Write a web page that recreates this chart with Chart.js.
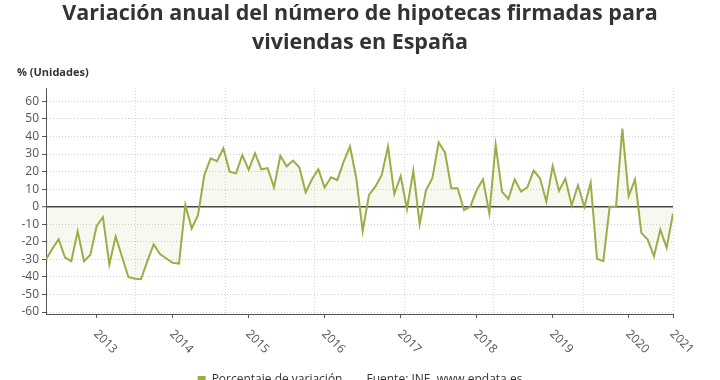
<!DOCTYPE html>
<html lang="es">
<head>
<meta charset="UTF-8">
<meta name="viewport" content="width=device-width, initial-scale=1.0">
<title>Variación anual del número de hipotecas</title>
<script src="https://cdn.jsdelivr.net/npm/chart.js"></script>
<style>
  html, body { margin: 0; padding: 0; background: #fff; overflow: hidden; }
  .wrap { width: 720px; height: 396px; }
</style>
</head>
<body>
<div class="wrap"><canvas id="chart"></canvas></div>
<script>
// --- data (monthly, 100 points) ---
const titleLines = ['Variación anual del número de hipotecas firmadas para', 'viviendas en España'];
const unitLabel = '% (Unidades)';
const seriesName = 'Porcentaje de variación';
const sourceText = 'Fuente: INE, www.epdata.es';

const yTicks = [60, 50, 40, 30, 20, 10, 0, -10, -20, -30, -40, -50, -60];
const yearLabels = ['2013', '2014', '2015', '2016', '2017', '2018', '2019', '2020', '2021'];
const yearTickPos = [8, 20, 32, 44, 56, 68, 80, 92, 99];   // month index of each year tick

const variacion = [
  -30, -24, -18.5, -29, -31, -14, -31, -27.5, -11, -6,
  -33, -17, -28.5, -40, -41, -41.3, -31, -21.5, -27, -29.5,
  -32, -32.4, 1, -12.4, -4.8, 18, 27.6, 26, 33.3, 20,
  19, 29.5, 21, 30.5, 21.3, 22, 11, 29, 23, 26.3,
  22.5, 8.2, 15.6, 21.3, 11, 16.8, 15.2, 25.7, 34.3, 16.2,
  -13.9, 6.7, 11.4, 18, 34.3, 7.2, 17.5, -1.3, 20.6, -10,
  9.5, 16.2, 36.6, 30.9, 10.5, 10.5, -1.9, 0, 9.5, 15.6,
  -3.8, 35.2, 8.6, 4.4, 15.6, 8.6, 11, 20.6, 16.2, 2.9,
  23.2, 9, 16, 0.8, 12.2, 0, 13.7, -29.7, -31, 0,
  0, 44.5, 6.1, 15.6, -14.9, -18.7, -28.2, -13, -23.4, -3.8
];

const green = '#9aae47';
const font = '"Open Sans", "Noto Sans", sans-serif';

// rotated year labels (clockwise, starting at the tick)
const yearLabelPlugin = {
  id: 'yearLabels',
  afterDraw(chart) {
    const sx = chart.scales.x;
    const ctx = chart.ctx;
    ctx.save();
    ctx.font = '12px ' + font;
    ctx.fillStyle = '#555';
    ctx.textAlign = 'left';
    ctx.textBaseline = 'middle';
    yearLabels.forEach((lab, k) => {
      const px = sx.getPixelForValue(yearTickPos[k]);
      ctx.save();
      ctx.translate(px - 1, sx.top + 18);
      ctx.rotate(Math.PI / 4);
      ctx.fillText(lab, 0, 0);
      ctx.restore();
    });
    ctx.restore();
  }
};

new Chart(document.getElementById('chart'), {
  type: 'line',
  data: {
    datasets: [{
      label: seriesName,
      data: variacion.map((v, i) => ({ x: i, y: v })),
      borderColor: green,
      backgroundColor: 'rgba(160, 170, 60, 0.08)',
      borderWidth: 2,
      pointRadius: 0,
      tension: 0,
      fill: 'origin'
    }]
  },
  options: {
    responsive: true,
    maintainAspectRatio: false,
    animation: false,
    layout: { padding: { left: 17, right: 17, top: 0, bottom: 0 } },
    scales: {
      x: {
        type: 'linear',
        min: 0,
        max: variacion.length - 1,
        afterBuildTicks: axis => { axis.ticks = yearTickPos.map(v => ({ value: v })); },
        afterFit: axis => { axis.height = 50; },
        ticks: { display: false },
        grid: { drawOnChartArea: false, drawTicks: true, tickLength: 4, tickColor: '#555' },
        border: { display: true, color: '#555', width: 1 }
      },
      xg: {
        type: 'linear',
        position: 'top',
        min: 0,
        max: 7,
        afterBuildTicks: axis => { axis.ticks = [0, 1, 2, 3, 4, 5, 6, 7].map(v => ({ value: v })); },
        afterFit: axis => { axis.height = 0; },
        ticks: { display: false },
        grid: { color: '#d6d6d6', drawTicks: false },
        border: { display: false, dash: [1, 2] }
      },
      y: {
        min: -61.1,
        max: 67.4,
        afterBuildTicks: axis => { axis.ticks = yTicks.map(v => ({ value: v })); },
        afterFit: axis => { axis.width = 29; },
        ticks: { color: '#555', padding: 3, font: { family: font, size: 12 } },
        grid: {
          color: c => (c.tick && c.tick.value === 0) ? '#444' : '#d0d0d0',
          lineWidth: c => (c.tick && c.tick.value === 0) ? 1.5 : 1,
          tickLength: 4,
          tickColor: '#555',
          tickWidth: 1
        },
        border: {
          display: true,
          color: '#555',
          width: 1,
          dash: c => (c.tick && c.tick.value === 0) ? [] : [1, 2]
        }
      },
      yr: {
        type: 'linear',
        position: 'right',
        afterFit: axis => { axis.width = 30; },
        ticks: { display: false },
        grid: { display: false },
        border: { display: false }
      }
    },
    plugins: {
      title: {
        display: true,
        text: titleLines,
        color: '#333',
        font: { family: font, size: 21.5, weight: 'bold', lineHeight: 1.33 },
        padding: { top: 0, bottom: 9 }
      },
      subtitle: {
        display: true,
        text: unitLabel,
        align: 'start',
        color: '#333',
        font: { family: font, size: 11, weight: 'bold', lineHeight: 1.2 },
        padding: { top: 0, bottom: 9 }
      },
      legend: {
        position: 'bottom',
        labels: {
          color: '#333',
          boxWidth: 8,
          boxHeight: 8,
          padding: 10,
          font: { family: font, size: 12 },
          generateLabels(chart) {
            const items = Chart.defaults.plugins.legend.labels.generateLabels(chart);
            items[0].fillStyle = green;
            items[0].lineWidth = 0;
            items.push({ text: sourceText, fillStyle: 'rgba(0,0,0,0)', strokeStyle: 'rgba(0,0,0,0)', lineWidth: 0, hidden: false, fontColor: '#333' });
            return items;
          }
        }
      },
      tooltip: { enabled: false }
    }
  },
  plugins: [yearLabelPlugin]
});
</script>
</body>
</html>
